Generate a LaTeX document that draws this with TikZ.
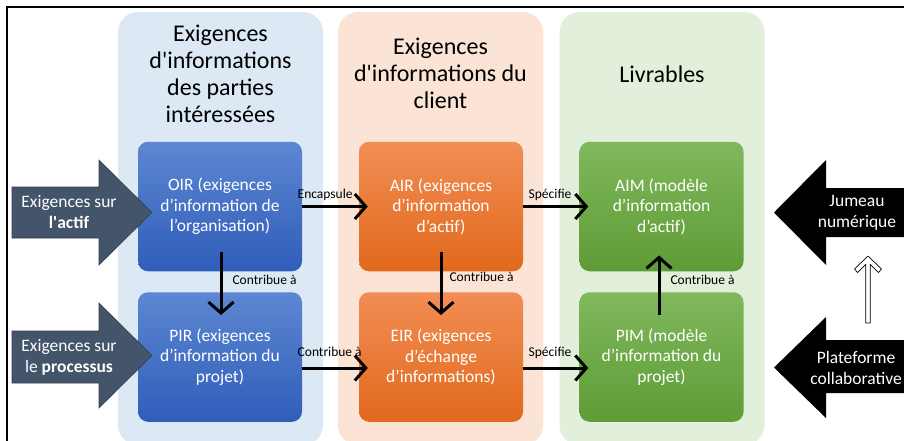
\documentclass[tikz,border=0pt]{standalone}
\usepackage{fontspec}
\setmainfont{Carlito}
\usetikzlibrary{arrows.meta}
\definecolor{panelblue}{HTML}{DDE8F5}
\definecolor{panelorange}{HTML}{FBE4D6}
\definecolor{panelgreen}{HTML}{E2EFDA}
\definecolor{bluetop}{HTML}{5D87D2}
\definecolor{bluebot}{HTML}{2F5DB9}
\definecolor{orangetop}{HTML}{F18D54}
\definecolor{orangebot}{HTML}{E2691D}
\definecolor{greentop}{HTML}{80B85C}
\definecolor{greenbot}{HTML}{5E9C36}
\definecolor{slate}{HTML}{44546A}
\definecolor{slateedge}{HTML}{333F50}
\begin{document}
\begin{tikzpicture}[x=1pt,y=-1pt,
  panel/.style={rounded corners=20pt, minimum width=205pt, minimum height=433pt, inner sep=0pt},
  header/.style={align=center, inner sep=0pt, text=black, font=\fontsize{24}{27}\selectfont},
  box/.style={rounded corners=10pt, minimum width=164pt, minimum height=129.5pt, inner sep=2pt,
    align=center, text=white, font=\fontsize{17.5}{20.5}\selectfont},
  bluebox/.style={box, top color=bluetop, bottom color=bluebot},
  orangebox/.style={box, top color=orangetop, bottom color=orangebot},
  greenbox/.style={box, top color=greentop, bottom color=greenbot},
  arrowtxt/.style={align=center, inner sep=0pt, text=white, font=\fontsize{17.5}{21}\selectfont},
  conn/.style={line width=3pt, -{Straight Barb[length=11pt,width=25pt]}},
  lbl/.style={inner sep=0pt, text=black, font=\fontsize{13.5}{16}\selectfont},
  blockleft/.style={fill=slate, draw=slateedge, line width=0.6pt},
  blockright/.style={fill=black}
]
\useasboundingbox (0,0) rectangle (904,440);
\clip (0,0) rectangle (904,440);
\fill[white] (0,0) rectangle (904,440);
% frame
\draw[line width=1.8pt, black] (7,7) rectangle (930,470);

% panels
\node[panel, fill=panelblue]   (pblue)   at (220.5,228.5) {};
\node[panel, fill=panelorange] (porange) at (440.5,228.5) {};
\node[panel, fill=panelgreen]  (pgreen)  at (662,228.5) {};

% headers
\node[header] (hblue) at (220.5,74) {Exigences\\d\textquotesingle informations\\des parties\\intéressées};
\node[header] (horange) at (440.5,73.5) {Exigences\\d\textquotesingle informations du\\client};
\node[header] (hgreen) at (662,74) {Livrables};

% boxes
\node[bluebox]   (oir) at (220,206.5) {OIR (exigences\\d’information de\\l’organisation)};
\node[bluebox]   (pir) at (220,357)   {PIR (exigences\\d’information du\\projet)};
\node[orangebox] (air) at (441,206.5) {AIR (exigences\\d’information\\d’actif)};
\node[orangebox] (eir) at (441,357)   {EIR (exigences\\d’échange\\d’informations)};
\node[greenbox]  (aim) at (661.5,206.5) {AIM (modèle\\d’information\\d’actif)};
\node[greenbox]  (pim) at (661.5,357)   {PIM (modèle\\d’information du\\projet)};

% connectors
\draw[conn, shorten >=-9pt] (oir.east) -- (air.west)
  node[lbl, pos=0, anchor=base west, xshift=-6pt, yshift=8.5pt] {Encapsule};
\draw[conn, shorten >=-9pt] (air.east) -- (aim.west)
  node[lbl, pos=0, anchor=base west, xshift=4pt, yshift=8.5pt] {Spécifie};
\draw[conn, shorten >=-9pt] ([yshift=-11pt]pir.east) -- ([yshift=-11pt]eir.west)
  node[lbl, pos=0, anchor=base west, xshift=-6pt, yshift=11.5pt] {Contribue à};
\draw[conn, shorten >=-9pt] ([yshift=-11pt]eir.east) -- ([yshift=-11pt]pim.west)
  node[lbl, pos=0, anchor=base west, xshift=4pt, yshift=11.5pt] {Spécifie};
\draw[conn, shorten <=-19pt, shorten >=-23pt] ([xshift=1pt]oir.south) -- ([xshift=1pt]pir.north)
  node[lbl, midway, anchor=base west, xshift=10pt, yshift=-3pt] {Contribue à};
\draw[conn, shorten <=-19pt, shorten >=-23pt] (air.south) -- (eir.north)
  node[lbl, midway, anchor=base west, xshift=7pt, yshift=0pt] {Contribue à};
\draw[conn, shorten <=-23pt, shorten >=-16pt] ([xshift=-2.5pt]pim.north) -- ([xshift=-2.5pt]aim.south)
  node[lbl, midway, anchor=base west, xshift=10pt, yshift=-3pt] {Contribue à};

% left block arrows
\draw[blockleft] (12,187) -- (99,187) -- (99,160) -- (152,212.5) -- (99,265) -- (99,238) -- (12,238) -- cycle;
\node[arrowtxt] (actif) at (69,212.5) {Exigences sur\\\textbf{l\textquotesingle actif}};
\draw[blockleft] (12,331) -- (99,331) -- (99,303) -- (152,355.5) -- (99,408) -- (99,383) -- (12,383) -- cycle;
\node[arrowtxt] (processus) at (69,357.5) {Exigences sur\\le \textbf{processus}};

% right block arrows
\fill[blockright] (910,188) -- (826,188) -- (826,160) -- (774,212.5) -- (826,265) -- (826,237) -- (910,237) -- cycle;
\node[arrowtxt] (jumeau) at (857,213) {Jumeau\\numérique};
\fill[blockright] (910,340) -- (826,340) -- (826,317) -- (774,367.5) -- (826,418) -- (826,393) -- (910,393) -- cycle;
\node[arrowtxt] (plateforme) at (856,368) {Plateforme\\collaborative};

% hollow up arrow
\draw[fill=white, draw=black, line width=0.7pt, line join=round]
  (868,256) -- (881.5,269) -- (878.5,272.5) -- (870.3,264.5) -- (870.3,323)
  -- (865.7,323) -- (865.7,264.5) -- (857.5,272.5) -- (854.5,269) -- cycle;
\end{tikzpicture}
\end{document}
